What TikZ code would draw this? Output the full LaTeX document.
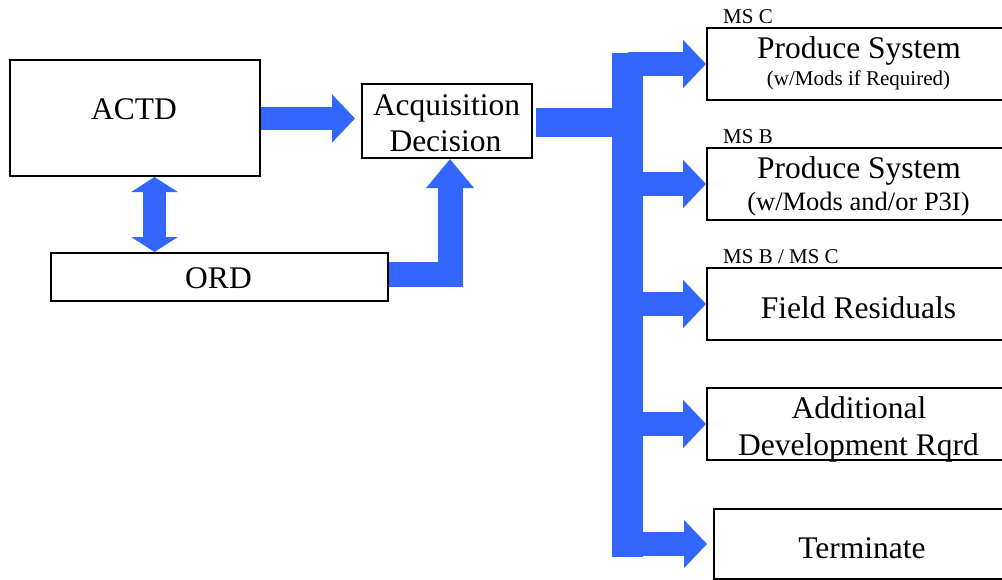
\documentclass[tikz,border=0pt]{standalone}
\usepackage{fontspec}
\setmainfont{Liberation Serif}
\usetikzlibrary{arrows.meta,calc}
\definecolor{flow}{RGB}{51,102,255}
\begin{document}
\begin{tikzpicture}[x=1pt,y=-1pt,
  box/.style={draw=black, line width=2pt, inner sep=0pt, anchor=north west, fill=white},
  big/.style={font=\fontsize{31.5}{36}\selectfont, inner sep=0pt, anchor=base},
  mid/.style={font=\fontsize{26.5}{30}\selectfont, inner sep=0pt, anchor=base},
  small/.style={font=\fontsize{21}{24}\selectfont, inner sep=0pt, anchor=base},
  mslabel/.style={font=\fontsize{21}{24}\selectfont, inner sep=0pt, anchor=base west},
  flowline/.style={draw=flow, line join=miter},
]
\path[use as bounding box, clip] (0,0) rectangle (1002,579);

% boxes
\node[box, minimum width=250pt, minimum height=116pt] (actd) at (9,59) {};
\node[box, minimum width=170pt, minimum height=74pt] (acq) at (361,83) {};
\node[box, minimum width=337pt, minimum height=48pt] (ord) at (50,252) {};
\node[box, minimum width=305pt, minimum height=72pt] (p1) at (706,27) {};
\node[box, minimum width=305pt, minimum height=72pt] (p2) at (706,147) {};
\node[box, minimum width=305pt, minimum height=72pt] (p3) at (706,267) {};
\node[box, minimum width=305pt, minimum height=72pt] (p4) at (706,387) {};
\node[box, minimum width=298pt, minimum height=70pt] (p5) at (713,508) {};

% texts
\node[big] (t-actd) at (134,119) {ACTD};
\node[big] (t-acq1) at (446.5,115) {Acquisition};
\node[big] (t-acq2) at (445.5,151) {Decision};
\node[big] (t-ord) at (218.5,288) {ORD};
\node[big] (t-p1) at (859,58) {Produce System};
\node[small] (t-p1s) at (858.5,85) {(w/Mods if Required)};
\node[big] (t-p2) at (859,178) {Produce System};
\node[mid] (t-p2s) at (858.5,210) {(w/Mods and/or P3I)};
\node[big] (t-p3) at (858.5,318) {Field Residuals};
\node[big] (t-p4a) at (859,418) {Additional};
\node[big] (t-p4b) at (858.5,455) {Development Rqrd};
\node[big] (t-p5) at (862,558) {Terminate};
\node[mslabel] (l1) at (723,23) {MS C};
\node[mslabel] (l2) at (723,143) {MS B};
\node[mslabel] (l3) at (723,263) {MS B / MS C};

% connectors
\draw[flowline, line width=23pt, -{Triangle[length=23pt,width=47pt]}, shorten >=6pt]
  (actd.east |- 0,118.5) -- (acq.west |- 0,118.5);
\draw[flowline, line width=23pt, {Triangle[length=15pt,width=46pt]}-{Triangle[length=15pt,width=46pt]}]
  (154.5,0 |- actd.south) -- (154.5,0 |- ord.north);
\draw[flowline, line width=25pt, -{Triangle[length=29pt,width=46pt]}]
  (ord.east |- 0,274.5) -| (450,0 |- acq.south);
\coordinate (trunk) at (627.5,300);
\draw[flowline, line width=29pt, shorten <=3pt] (acq.east |- 0,122.5) -- (trunk |- 0,122.5);
\draw[flowline, line width=31pt] ($(trunk |- p1.west)+(0,-11)$) -- ($(trunk |- p5.west)+(0,13)$);
\foreach \p in {p1,p2,p3,p4}
  \draw[flowline, line width=24pt, -{Triangle[length=23pt,width=47pt]}] (trunk |- \p.west) -- (\p.west);
\draw[flowline, line width=24pt, -{Triangle[length=23pt,width=47pt]}, shorten >=6pt] (trunk |- p5.west) -- (p5.west);
\end{tikzpicture}
\end{document}
